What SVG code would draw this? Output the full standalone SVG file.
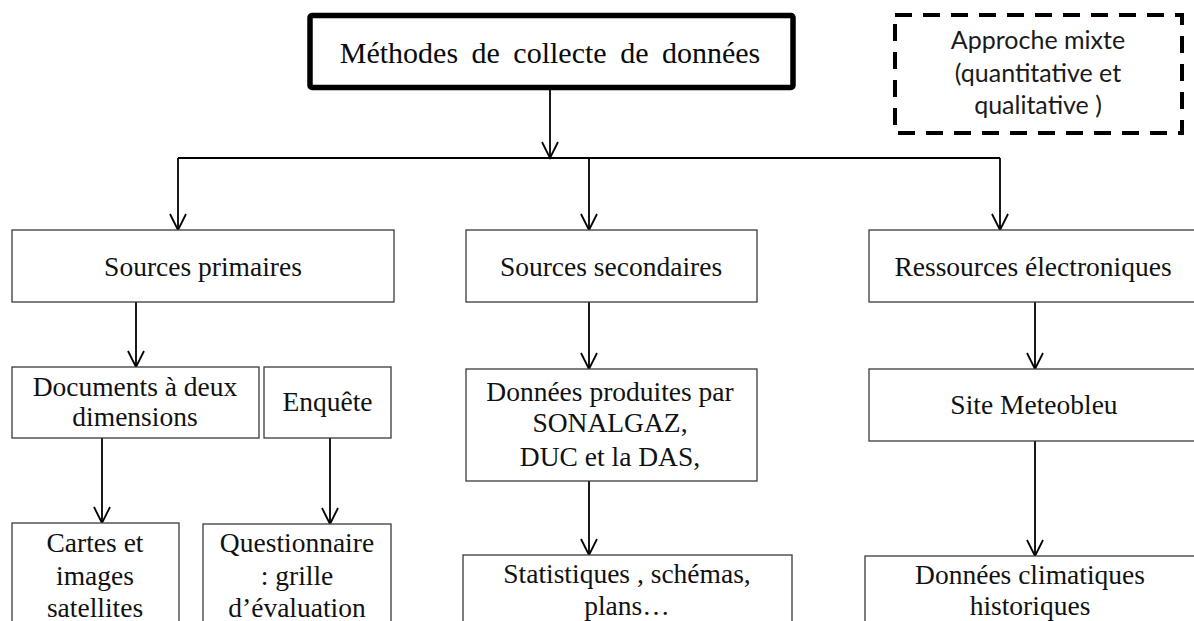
<svg xmlns="http://www.w3.org/2000/svg" width="1194" height="621" viewBox="0 0 1194 621">
  <style>
    .box { fill: #ffffff; stroke: #3a3a3a; stroke-width: 1.3; }
    .title-box { fill: #ffffff; stroke: #000000; stroke-width: 5.5; }
    .note-box { fill: none; stroke: #000000; stroke-width: 4; stroke-dasharray: 17 11; }
    .lbl { font-family: 'Liberation Serif', 'Times New Roman', serif; font-size: 27.5px; fill: #111111; text-anchor: middle; }
    .title { font-family: 'Liberation Serif', 'Times New Roman', serif; font-size: 30px; word-spacing: 6px; fill: #0a0a0a; text-anchor: middle; }
    .note { font-family: Lato, 'Liberation Sans', sans-serif; font-size: 25px; fill: #1a1a1a; text-anchor: middle; }
    .link { fill: none; stroke: #000000; stroke-width: 1.8; }
    .arrow { marker-end: url(#vhead); }
  </style>
  <defs>
    <!-- open V arrowhead used on every downward connector -->
    <marker id="vhead" markerUnits="userSpaceOnUse" markerWidth="20" markerHeight="20" refX="0" refY="0" viewBox="-18 -10 20 20" orient="auto" overflow="visible">
      <path d="M-16,-8 L0,0 L-16,8" fill="none" stroke="#000000" stroke-width="1.8"/>
    </marker>
  </defs>

  <rect width="1194" height="621" fill="#ffffff"/>

  <!-- connectors -->
  <g id="connectors">
    <line class="link arrow" x1="550" y1="90" x2="550" y2="158"/>
    <line class="link" x1="178" y1="158" x2="1000" y2="158"/>
    <line class="link arrow" x1="178" y1="158" x2="178" y2="230"/>
    <line class="link arrow" x1="589" y1="158" x2="589" y2="230"/>
    <line class="link arrow" x1="1000" y1="158" x2="1000" y2="230"/>
    <line class="link arrow" x1="136" y1="302" x2="136" y2="367"/>
    <line class="link arrow" x1="102" y1="438" x2="102" y2="523"/>
    <line class="link arrow" x1="330" y1="438" x2="330" y2="524"/>
    <line class="link arrow" x1="589" y1="302" x2="589" y2="369"/>
    <line class="link arrow" x1="589" y1="481" x2="589" y2="555"/>
    <line class="link arrow" x1="1035" y1="302" x2="1035" y2="369"/>
    <line class="link arrow" x1="1035" y1="441" x2="1035" y2="556"/>
  </g>

  <!-- root -->
  <g id="methodes">
    <rect class="title-box" x="310" y="15.5" width="483" height="72" rx="2"/>
    <text class="title" x="550" y="63">Méthodes de collecte de données</text>
  </g>

  <g id="approche-mixte">
    <rect class="note-box" x="895" y="15" width="287" height="118"/>
    <text class="note" x="1038" y="49">Approche mixte</text>
    <text class="note" x="1038" y="82">(quantitative et</text>
    <text class="note" x="1038" y="114">qualitative )</text>
  </g>

  <!-- first level -->
  <g id="sources-primaires">
    <rect class="box" x="12" y="230" width="382" height="72"/>
    <text class="lbl" x="203" y="276">Sources primaires</text>
  </g>
  <g id="sources-secondaires">
    <rect class="box" x="466" y="230" width="291" height="72"/>
    <text class="lbl" x="611" y="276">Sources secondaires</text>
  </g>
  <g id="ressources-electroniques">
    <rect class="box" x="869" y="230" width="330" height="72"/>
    <text class="lbl" x="1033" y="276">Ressources électroniques</text>
  </g>

  <!-- second level -->
  <g id="documents">
    <rect class="box" x="12" y="367" width="247" height="71"/>
    <text class="lbl" x="135" y="396">Documents à deux</text>
    <text class="lbl" x="135" y="426">dimensions</text>
  </g>
  <g id="enquete">
    <rect class="box" x="264" y="367" width="127" height="71"/>
    <text class="lbl" x="327.5" y="411">Enquête</text>
  </g>
  <g id="donnees-produites">
    <rect class="box" x="466" y="369" width="291" height="112"/>
    <text class="lbl" x="610" y="401">Données produites par</text>
    <text class="lbl" x="610" y="432">SONALGAZ,</text>
    <text class="lbl" x="610" y="466">DUC et la DAS,</text>
  </g>
  <g id="site-meteobleu">
    <rect class="box" x="869" y="369" width="330" height="72"/>
    <text class="lbl" x="1034" y="414">Site Meteobleu</text>
  </g>

  <!-- third level -->
  <g id="cartes">
    <rect class="box" x="12" y="523" width="167" height="110"/>
    <text class="lbl" x="95" y="552">Cartes et</text>
    <text class="lbl" x="95" y="585">images</text>
    <text class="lbl" x="95" y="617">satellites</text>
  </g>
  <g id="questionnaire">
    <rect class="box" x="203" y="524" width="188" height="110"/>
    <text class="lbl" x="297" y="552">Questionnaire</text>
    <text class="lbl" x="297" y="585">: grille</text>
    <text class="lbl" x="297" y="617">d’évaluation</text>
  </g>
  <g id="statistiques">
    <rect class="box" x="463" y="555" width="329" height="80"/>
    <text class="lbl" x="627" y="583">Statistiques , schémas,</text>
    <text class="lbl" x="627" y="615">plans…</text>
  </g>
  <g id="donnees-climatiques">
    <rect class="box" x="865" y="556" width="334" height="80"/>
    <text class="lbl" x="1030" y="584">Données climatiques</text>
    <text class="lbl" x="1030" y="615">historiques</text>
  </g>
</svg>
